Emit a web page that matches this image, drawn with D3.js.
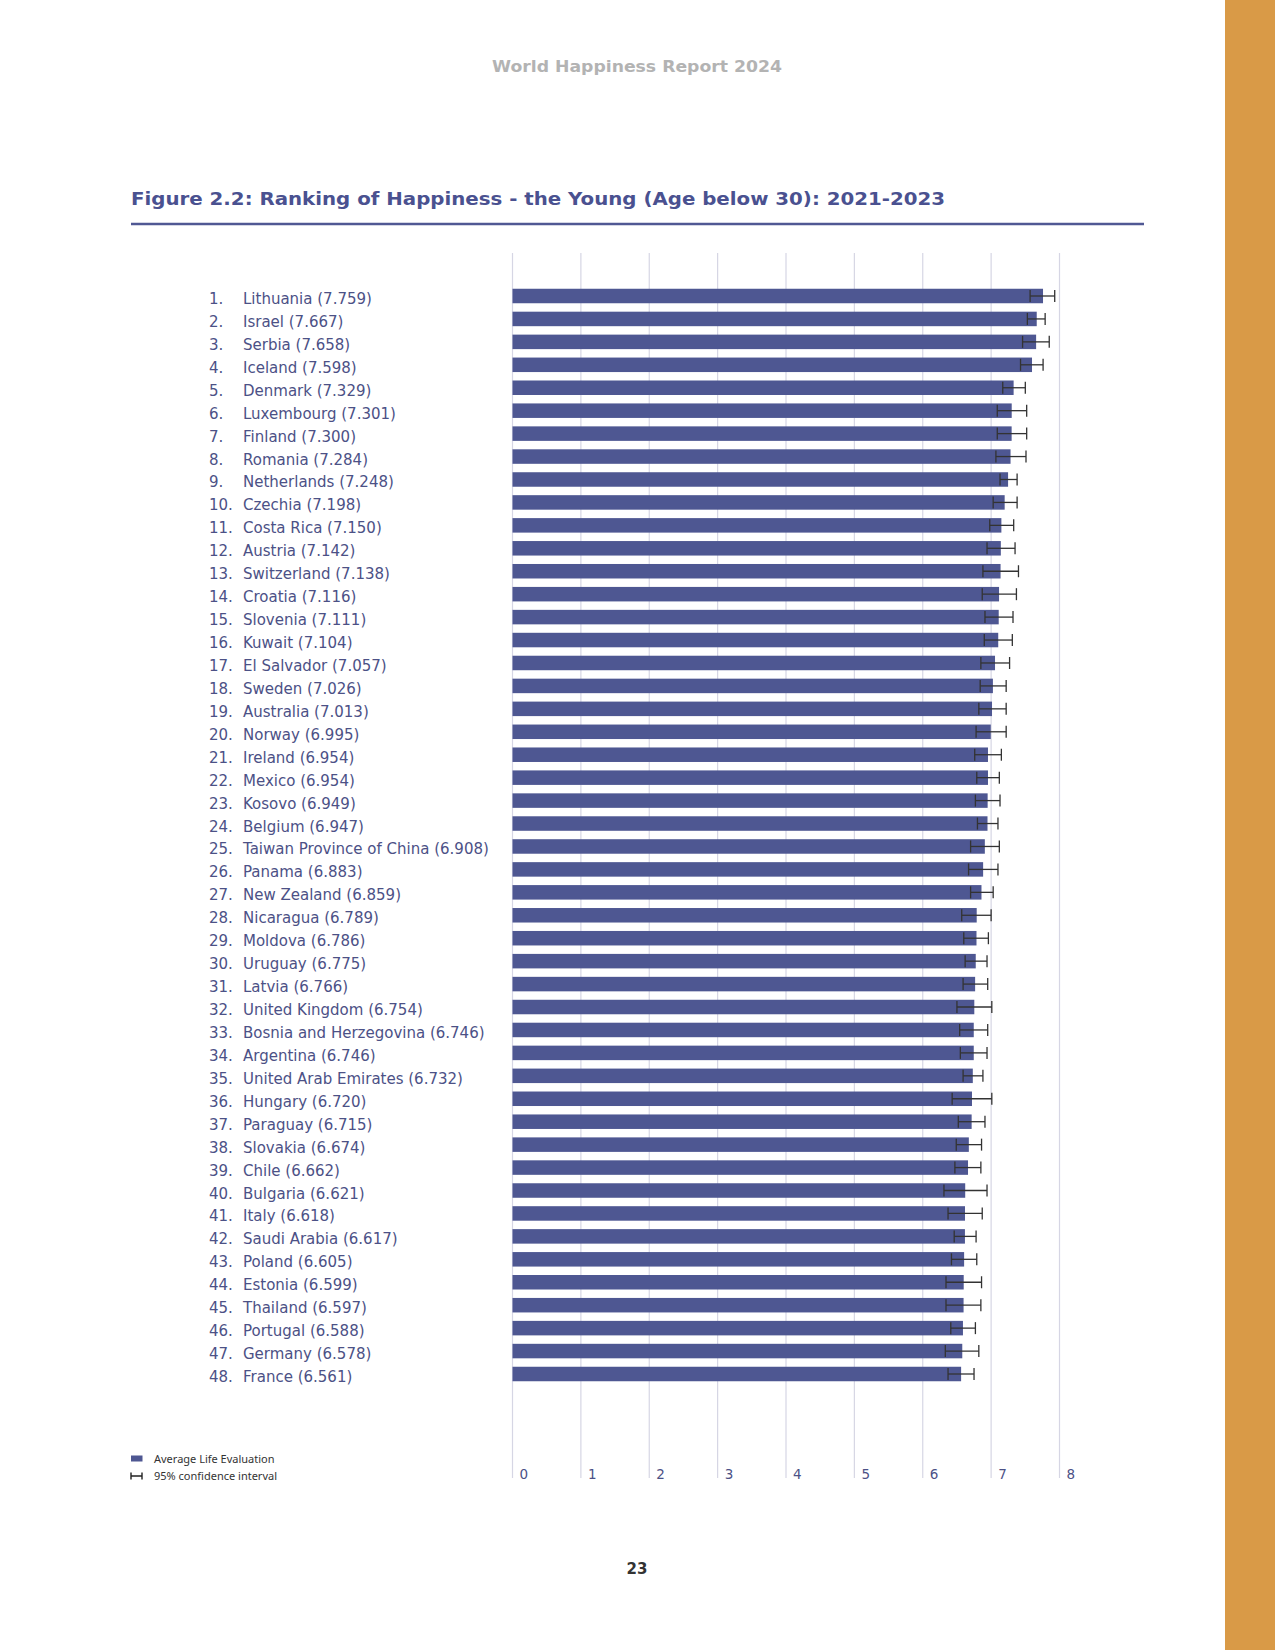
<!DOCTYPE html>
<html>
<head>
<meta charset="utf-8">
<script src="https://cdn.jsdelivr.net/npm/d3@7"></script>
<style>
  body { margin: 0; background: #fff; }
  svg { display: block; }
</style>
</head>
<body>
<div id="page"></div>
<script>
// Figure 2.2 - happiness ranking of the young, 2021-2023

const countries = [
  "Lithuania", "Israel", "Serbia", "Iceland", "Denmark", "Luxembourg", "Finland", "Romania",
  "Netherlands", "Czechia", "Costa Rica", "Austria", "Switzerland", "Croatia", "Slovenia", "Kuwait",
  "El Salvador", "Sweden", "Australia", "Norway", "Ireland", "Mexico", "Kosovo", "Belgium",
  "Taiwan Province of China", "Panama", "New Zealand", "Nicaragua", "Moldova", "Uruguay", "Latvia",
  "United Kingdom", "Bosnia and Herzegovina", "Argentina", "United Arab Emirates", "Hungary",
  "Paraguay", "Slovakia", "Chile", "Bulgaria", "Italy", "Saudi Arabia", "Poland", "Estonia",
  "Thailand", "Portugal", "Germany", "France"
];

const scores = [
  7.759, 7.667, 7.658, 7.598, 7.329, 7.301, 7.300, 7.284,
  7.248, 7.198, 7.150, 7.142, 7.138, 7.116, 7.111, 7.104,
  7.057, 7.026, 7.013, 6.995, 6.954, 6.954, 6.949, 6.947,
  6.908, 6.883, 6.859, 6.789, 6.786, 6.775, 6.766,
  6.754, 6.746, 6.746, 6.732, 6.720,
  6.715, 6.674, 6.662, 6.621, 6.618, 6.617, 6.605, 6.599,
  6.597, 6.588, 6.578, 6.561
];

// 95% confidence interval
const ciLow = [
  7.57, 7.53, 7.46, 7.43, 7.17, 7.09, 7.09, 7.07,
  7.13, 7.03, 6.98, 6.94, 6.88, 6.87, 6.91, 6.90,
  6.85, 6.84, 6.82, 6.78, 6.76, 6.79, 6.77, 6.80,
  6.70, 6.67, 6.70, 6.57, 6.60, 6.62, 6.59,
  6.50, 6.54, 6.55, 6.59, 6.43,
  6.52, 6.49, 6.47, 6.31, 6.37, 6.46, 6.42, 6.34,
  6.34, 6.41, 6.33, 6.37
];
const ciHigh = [
  7.93, 7.79, 7.85, 7.76, 7.50, 7.52, 7.52, 7.51,
  7.38, 7.38, 7.33, 7.35, 7.40, 7.37, 7.32, 7.31,
  7.27, 7.22, 7.22, 7.22, 7.15, 7.12, 7.13, 7.10,
  7.12, 7.10, 7.03, 7.00, 6.96, 6.94, 6.95,
  7.01, 6.95, 6.94, 6.88, 7.01,
  6.91, 6.86, 6.85, 6.94, 6.87, 6.78, 6.79, 6.86,
  6.85, 6.77, 6.82, 6.75
];

const xTicks = [0, 1, 2, 3, 4, 5, 6, 7, 8];

const width = 1275, height = 1650;
const blue = "#4e5792";
const labelColor = "#4c5186";
const font = "'DejaVu Sans', 'Noto Sans', sans-serif";

const svg = d3.select("#page")
  .append("svg")
  .attr("width", width)
  .attr("height", height)
  .attr("viewBox", [0, 0, width, height]);

// orange strip on the right edge
svg.append("rect")
  .attr("x", 1225).attr("y", 0)
  .attr("width", 50).attr("height", height)
  .attr("fill", "#d99a47");

// running header
svg.append("text")
  .attr("x", 492).attr("y", 72)
  .attr("textLength", 290)
  .attr("lengthAdjust", "spacingAndGlyphs")
  .style("font-family", font)
  .style("font-weight", "700")
  .style("font-size", "16.5px")
  .style("fill", "#b3b3b3")
  .text("World Happiness Report 2024");

// figure title + rule
svg.append("text")
  .attr("x", 131).attr("y", 204.5)
  .attr("textLength", 814)
  .attr("lengthAdjust", "spacingAndGlyphs")
  .style("font-family", font)
  .style("font-weight", "700")
  .style("font-size", "18.5px")
  .style("fill", "#4a5190")
  .text("Figure 2.2: Ranking of Happiness - the Young (Age below 30): 2021-2023");

svg.append("line")
  .attr("x1", 131).attr("x2", 1144)
  .attr("y1", 224).attr("y2", 224)
  .attr("stroke", "#505894")
  .attr("stroke-width", 2.5);

// scales
const x = d3.scaleLinear().domain([0, 8]).range([512.5, 1059.5]);
const y = d3.scalePoint().domain(countries).range([296, 1374]);
const barH = 14.5;

// gridlines
const grid = svg.append("g");
grid.selectAll("line")
  .data(xTicks)
  .join("line")
  .attr("x1", d => x(d)).attr("x2", d => x(d))
  .attr("y1", 253).attr("y2", 1478)
  .attr("stroke", "#d6d6e4")
  .attr("stroke-width", 1.2);

grid.selectAll("text")
  .data(xTicks)
  .join("text")
  .attr("x", d => x(d) + 7)
  .attr("y", 1479)
  .style("font-family", font)
  .style("font-size", "13.5px")
  .style("fill", labelColor)
  .text(d => d);

// bars
const rows = countries.map((c, i) => ({
  name: c, rank: i + 1, score: scores[i], lo: ciLow[i], hi: ciHigh[i]
}));

svg.append("g")
  .selectAll("rect")
  .data(rows)
  .join("rect")
  .attr("x", x(0))
  .attr("y", d => y(d.name) - barH / 2)
  .attr("width", d => x(d.score) - x(0))
  .attr("height", barH)
  .attr("fill", blue);

// error bars
const err = svg.append("g")
  .attr("stroke", "#333")
  .attr("stroke-width", 1.3);

err.selectAll("line.mid")
  .data(rows)
  .join("line")
  .attr("class", "mid")
  .attr("x1", d => x(d.lo)).attr("x2", d => x(d.hi))
  .attr("y1", d => y(d.name)).attr("y2", d => y(d.name));

err.selectAll("line.lo")
  .data(rows)
  .join("line")
  .attr("class", "lo")
  .attr("x1", d => x(d.lo)).attr("x2", d => x(d.lo))
  .attr("y1", d => y(d.name) - 6).attr("y2", d => y(d.name) + 6);

err.selectAll("line.hi")
  .data(rows)
  .join("line")
  .attr("class", "hi")
  .attr("x1", d => x(d.hi)).attr("x2", d => x(d.hi))
  .attr("y1", d => y(d.name) - 6).attr("y2", d => y(d.name) + 6);

// country labels
const labels = svg.append("g")
  .style("font-family", font)
  .style("font-size", "15px")
  .style("fill", labelColor);

labels.selectAll("text.rank")
  .data(rows)
  .join("text")
  .attr("class", "rank")
  .attr("x", 209)
  .attr("y", d => y(d.name) + 8)
  .text(d => d.rank + ".");

labels.selectAll("text.name")
  .data(rows)
  .join("text")
  .attr("class", "name")
  .attr("x", 243)
  .attr("y", d => y(d.name) + 8)
  .text(d => d.name + " (" + d.score.toFixed(3) + ")");

// legend
const legend = svg.append("g")
  .style("font-family", "'Noto Sans', sans-serif")
  .style("font-size", "11px")
  .style("fill", "#333");

legend.append("rect")
  .attr("x", 131).attr("y", 1455.5)
  .attr("width", 11.5).attr("height", 6)
  .attr("fill", blue);
legend.append("text")
  .attr("x", 154).attr("y", 1463)
  .text("Average Life Evaluation");

legend.append("path")
  .attr("d", "M131,1472.5V1479.5M131,1476H142M142,1472.5V1479.5")
  .attr("stroke", "#222")
  .attr("stroke-width", 1.4)
  .attr("fill", "none");
legend.append("text")
  .attr("x", 154).attr("y", 1480)
  .text("95% confidence interval");

// page number
svg.append("text")
  .attr("x", 637).attr("y", 1574)
  .attr("text-anchor", "middle")
  .style("font-family", font)
  .style("font-weight", "700")
  .style("font-size", "15px")
  .style("fill", "#333")
  .text("23");
</script>
</body>
</html>
